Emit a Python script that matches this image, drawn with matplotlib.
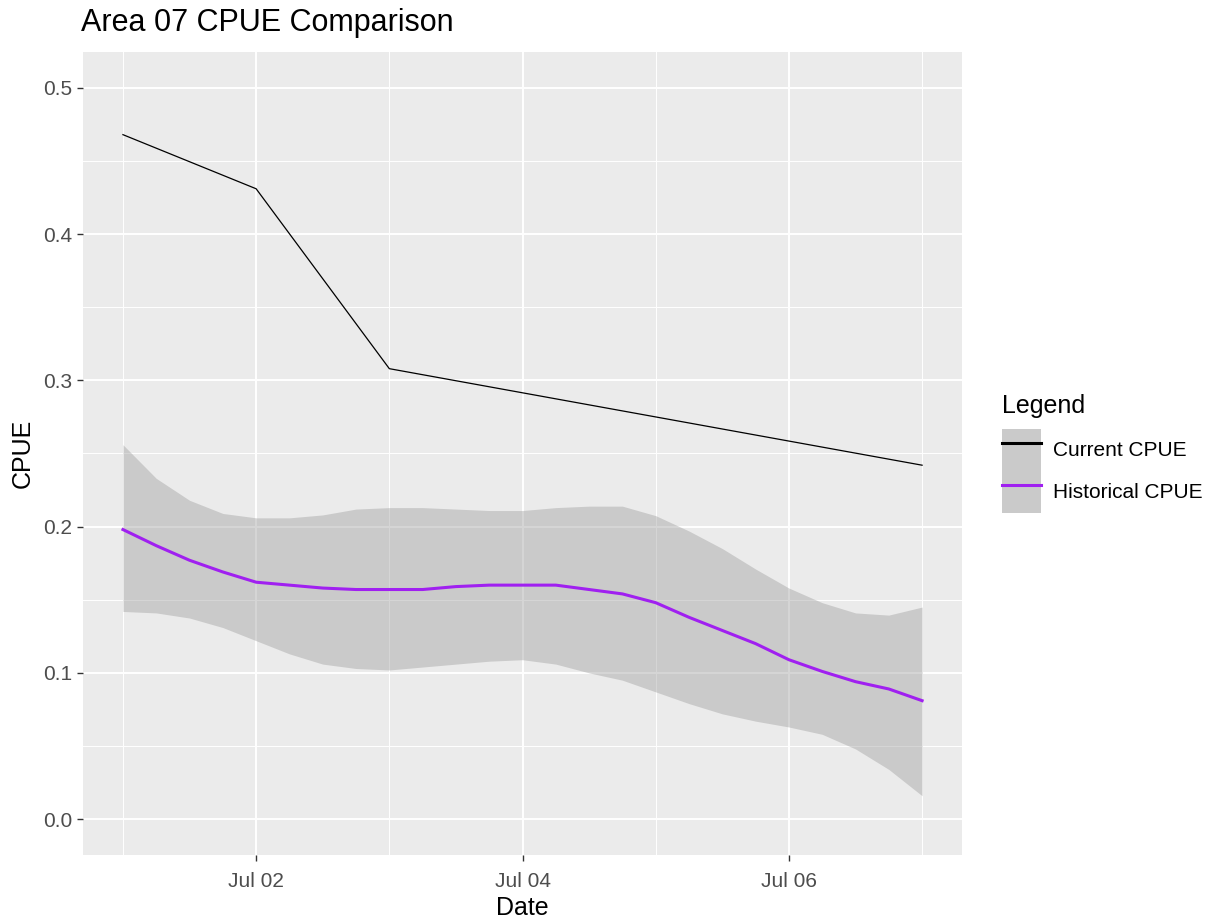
import numpy as np
import matplotlib.pyplot as plt
import matplotlib.dates as mdates
from matplotlib.lines import Line2D
from matplotlib.patches import Patch
from matplotlib.legend_handler import HandlerTuple

plt.rcParams['font.family'] = ['Liberation Sans', 'DejaVu Sans']

# current season CPUE (daily)
cur_dates = np.array(['2021-07-01', '2021-07-02', '2021-07-03', '2021-07-07'], dtype='datetime64[D]')
cur_cpue = [0.468, 0.431, 0.308, 0.242]

# historical CPUE smooth (quarter-day steps from Jul 01) with confidence band
hist_days = np.arange(0, 6.01, 0.25)
hist_mean = [0.198, 0.187, 0.177, 0.169, 0.162, 0.160, 0.158, 0.157, 0.157,
             0.157, 0.159, 0.160, 0.160, 0.160, 0.157, 0.154, 0.148, 0.138,
             0.129, 0.120, 0.109, 0.101, 0.094, 0.089, 0.081]
hist_upper = [0.256, 0.233, 0.218, 0.209, 0.206, 0.206, 0.208, 0.212, 0.213,
              0.213, 0.212, 0.211, 0.211, 0.213, 0.214, 0.214, 0.2075, 0.197,
              0.185, 0.171, 0.158, 0.148, 0.141, 0.1395, 0.145]
hist_lower = [0.142, 0.141, 0.1375, 0.131, 0.122, 0.113, 0.106, 0.103, 0.102,
              0.104, 0.106, 0.108, 0.109, 0.106, 0.100, 0.095, 0.087, 0.079,
              0.072, 0.067, 0.063, 0.058, 0.048, 0.034, 0.016]

start = np.datetime64('2021-07-01T00:00')
hist_dates = start + (hist_days * 24 * 60).astype(int).astype('timedelta64[m]')

fig = plt.figure(figsize=(12.08, 9.24), dpi=100)
ax = fig.add_axes([0.0687, 0.0747, 0.7277, 0.869])
ax.set_facecolor('#EBEBEB')

ax.fill_between(hist_dates, hist_lower, hist_upper, color='#999999', alpha=0.4, lw=0, zorder=2)
ax.plot(hist_dates, hist_mean, color='#A020F0', lw=2.2, zorder=3)
ax.plot(cur_dates, cur_cpue, color='black', lw=0.9, zorder=4)

x0 = mdates.date2num(np.datetime64('2021-07-01'))
ax.set_xlim(x0 - 0.3, x0 + 6.3)
ax.set_ylim(-0.0245, 0.5245)

ax.xaxis.set_major_locator(mdates.DayLocator(bymonthday=[2, 4, 6]))
ax.xaxis.set_minor_locator(mdates.DayLocator(bymonthday=[1, 3, 5, 7]))
ax.xaxis.set_major_formatter(mdates.DateFormatter('%b %d'))
ax.set_yticks(np.arange(0, 0.51, 0.1))
ax.set_yticks(np.arange(0.05, 0.5, 0.1), minor=True)

ax.grid(which='major', color='white', lw=1.4, zorder=1)
ax.grid(which='minor', color='white', lw=0.7, zorder=1)
ax.set_axisbelow(True)
for s in ax.spines.values():
    s.set_visible(False)
ax.tick_params(which='major', length=4.5, width=1, color='#333333', labelcolor='#4D4D4D',
               labelsize=15)
ax.tick_params(axis='y', pad=3)
ax.tick_params(axis='x', pad=8)
ax.tick_params(which='minor', length=0)

ax.set_xlabel('Date', fontsize=18, labelpad=3)
ax.set_ylabel('CPUE', fontsize=18, labelpad=6)
ax.set_title('Area 07 CPUE Comparison', fontsize=22, loc='left', pad=15, x=-0.002)

handles = [
    (Patch(facecolor='#CACACA', edgecolor='none'), Line2D([], [], color='black', lw=2.2)),
    (Patch(facecolor='#CACACA', edgecolor='none'), Line2D([], [], color='#A020F0', lw=2.2)),
]
leg = ax.legend(handles, ['Current CPUE', 'Historical CPUE'],
                handler_map={tuple: HandlerTuple(ndivide=1, pad=0)},
                title='Legend', loc='center left', bbox_to_anchor=(1.036, 0.5),
                frameon=False, fontsize=15, title_fontsize=18,
                handlelength=1.85, handleheight=2.74, labelspacing=0,
                handletextpad=0.6, borderaxespad=0)
leg._legend_box.align = 'left'
leg._legend_box.sep = 8

fig.savefig('out.png', dpi=100)
